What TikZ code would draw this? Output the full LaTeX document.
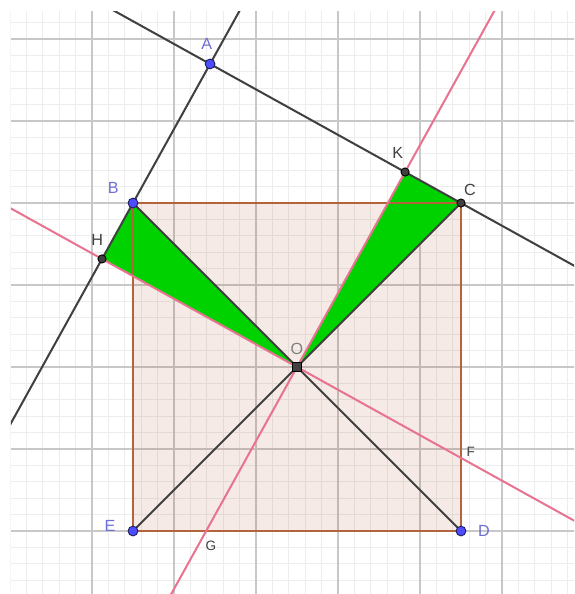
\documentclass[tikz,border=0pt]{standalone}
\usepackage{fontspec}
\setmainfont{Liberation Sans}
\usetikzlibrary{calc}

\definecolor{gridmajor}{RGB}{200,200,200}
\definecolor{gridminor}{RGB}{237,237,237}
\definecolor{sqbrown}{RGB}{153,51,0}
\definecolor{sqedge}{RGB}{180,100,60}
\definecolor{triggreen}{RGB}{0,210,0}
\definecolor{pinkline}{RGB}{232,115,145}
\definecolor{darkline}{RGB}{64,64,64}
\definecolor{ptblue}{RGB}{77,77,255}
\definecolor{lblblue}{RGB}{110,110,215}

\tikzset{
  bluept/.style={circle, fill=ptblue, draw=ptblue!35!black, line width=0.3pt, inner sep=0pt, minimum size=0.12cm},
  darkpt/.style={circle, fill=darkline, draw=black, line width=0.3pt, inner sep=0pt, minimum size=0.1cm},
  lbl/.style={font=\fontsize{5.6}{6}\selectfont, inner sep=0pt},
  smalllbl/.style={font=\fontsize{4.7}{5}\selectfont, inner sep=0pt, text=darkline},
}

\begin{document}
\begin{tikzpicture}[x=1cm,y=1cm]
  \useasboundingbox (-1.122,-2.768) rectangle (5.878,4.476);
  % points of the figure
  \coordinate (B) at (0.5,2);
  \coordinate (C) at (4.5,2);
  \coordinate (D) at (4.5,-2);
  \coordinate (E) at (0.5,-2);
  \coordinate (O) at (2.5,0);
  \coordinate (A) at ($(B)+(61:1.939)$);
  \coordinate (H) at ($(B)!(O)!(A)$);
  \coordinate (K) at ($(A)!(O)!(C)$);
  \coordinate (F) at (4.5,-1.108);
  \coordinate (G) at (1.392,-2);
  \begin{scope}
    \clip (-0.988,-2.768) rectangle (5.878,4.341);
    % grid
    \draw[gridminor, line width=0.3pt, step=0.2] (-1.2,-3) grid (6,4.6);
    \draw[gridmajor, line width=0.4pt, step=1] (-1.2,-3) grid (6,4.6);
    % square fill
    \fill[sqbrown, fill opacity=0.1] (B) -- (C) -- (D) -- (E) -- cycle;
    % green triangles
    \fill[triggreen] (B) -- (H) -- (O) -- cycle;
    \fill[triggreen] (K) -- (C) -- (O) -- cycle;
    % square edges
    \draw[sqedge, line width=0.7pt] (B) -- (C) -- (D) -- (E) -- cycle;
    % lines AB and AC
    \draw[darkline, line width=0.7pt] ($(B)!-3!(A)$) -- ($(B)!3!(A)$);
    \draw[darkline, line width=0.7pt] ($(A)!-1!(C)$) -- ($(A)!2!(C)$);
    % diagonals through O
    \draw[darkline, line width=0.7pt] (B) -- (D);
    \draw[darkline, line width=0.7pt] (C) -- (E);
    % pink perpendiculars
    \draw[pinkline, line width=0.7pt] ($(O)!-3!(K)$) -- ($(O)!3!(K)$);
    \draw[pinkline, line width=0.7pt] ($(O)!-3!(H)$) -- ($(O)!3!(H)$);
  \end{scope}
  % point marks
  \node[bluept] (pA) at (A) {};
  \node[bluept] (pB) at (B) {};
  \node[bluept] (pD) at (D) {};
  \node[bluept] (pE) at (E) {};
  \node[darkpt] (pC) at (C) {};
  \node[darkpt] (pK) at (K) {};
  \node[darkpt] (pH) at (H) {};
  \node[darkpt, rectangle, minimum size=0.1cm] (pO) at (O) {};
  % labels
  \node[lbl, text=lblblue] (lA) at ($(A)+(-0.04,0.25)$) {A};
  \node[lbl, text=lblblue] (lB) at ($(B)+(-0.24,0.18)$) {B};
  \node[lbl, text=lblblue] (lE) at ($(E)+(-0.28,0.06)$) {E};
  \node[lbl, text=lblblue] (lD) at ($(D)+(0.28,0)$) {D};
  \node[lbl, text=darkline] (lC) at ($(C)+(0.11,0.16)$) {C};
  \node[lbl, text=darkline] (lK) at ($(K)+(-0.09,0.23)$) {K};
  \node[lbl, text=darkline] (lH) at ($(H)+(-0.06,0.23)$) {H};
  \node[lbl, text=gray] (lO) at ($(O)+(0,0.22)$) {O};
  \node[smalllbl] (lF) at (4.62,-1.04) {F};
  \node[smalllbl] (lG) at (1.45,-2.18) {G};
\end{tikzpicture}
\end{document}
